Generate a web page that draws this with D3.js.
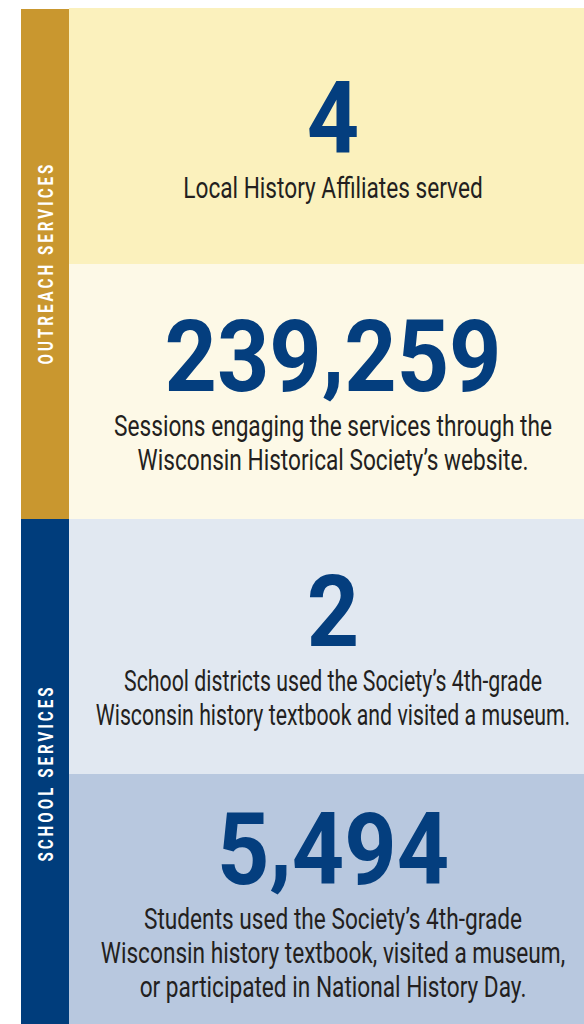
<!DOCTYPE html>
<html>
<head>
<meta charset="utf-8">
<script src="https://cdn.jsdelivr.net/npm/d3@7"></script>
<style>
  html, body { margin: 0; padding: 0; background: #fff; }
  svg { display: block; }
</style>
</head>
<body>
<svg id="chart"></svg>
<script>
'use strict';

// data
var sections = ["OUTREACH SERVICES", "SCHOOL SERVICES"];
var panelSection = [0, 0, 1, 1];
var values = [4, 239259, 2, 5494];
var captions = [
    ["Local History Affiliates served"],
    ["Sessions engaging the services through the",
     "Wisconsin Historical Society\u2019s website."],
    ["School districts used the Society\u2019s 4th-grade",
     "Wisconsin history textbook and visited a museum."],
    ["Students used the Society\u2019s 4th-grade",
     "Wisconsin history textbook, visited a museum,",
     "or participated in National History Day."]
];

var width = 584,
    height = 1024,
    bandX = 21,
    bandW = 48,
    panelX = bandX + bandW,
    centerX = 333;

var panelColors = ["#fbf1bd", "#fdf9e7", "#e1e8f1", "#b8c8df"],
    sectionColors = ["#c9972f", "#003d7c"],
    numberColor = "#043e7e",
    textColor = "#231f20",
    panelTracking = [1, 1, 0.94, 1];

var fmt = d3.format(",");

var svg = d3.select("#chart")
    .attr("width", width)
    .attr("height", height);

var y = d3.scaleBand()
    .domain(d3.range(values.length))
    .range([9, 1029]);

// panels
svg.selectAll("rect.panel")
    .data(values)
    .enter().append("rect")
    .attr("class", "panel")
    .attr("x", panelX)
    .attr("y", function (d, i) { return i === 0 ? y(i) - 1 : y(i); })
    .attr("width", width - panelX)
    .attr("height", function (d, i) { return i === 0 ? y.bandwidth() + 1 : y.bandwidth(); })
    .attr("fill", function (d, i) { return panelColors[i]; });

// section bands
function sectionExtent(s) {
    var idx = d3.range(values.length).filter(function (i) { return panelSection[i] === s; });
    return [y(d3.min(idx)), y(d3.max(idx)) + y.bandwidth()];
}

svg.selectAll("rect.section")
    .data(sections)
    .enter().append("rect")
    .attr("class", "section")
    .attr("x", bandX)
    .attr("y", function (d, i) { return sectionExtent(i)[0]; })
    .attr("width", bandW)
    .attr("height", function (d, i) { var e = sectionExtent(i); return e[1] - e[0]; })
    .attr("fill", function (d, i) { return sectionColors[i]; });

var labels = svg.selectAll("text.section-label")
    .data(sections)
    .enter().append("text")
    .attr("class", "section-label")
    .attr("text-anchor", "middle")
    .style("font-family", "Roboto, 'Noto Sans', sans-serif")
    .style("font-weight", 700)
    .style("font-size", "21px")
    .style("letter-spacing", "4.2px")
    .attr("fill", "#fff")
    .text(function (d) { return d; });

// condense the label so OUTREACH SERVICES spans ~203px
var labelFactor = 203 / labels.nodes()[0].getComputedTextLength();
labels.attr("transform", function (d, i) {
    var e = sectionExtent(i);
    return "translate(" + (bandX + 32) + "," + ((e[0] + e[1]) / 2 - 1) + ") rotate(-90) scale(" + labelFactor + ",1)";
});

// stat blocks
var numberCap = 71,
    captionGap = 45,
    lineH = 34,
    blockMid = 130.5,
    commaLift = 7;

var blocks = svg.selectAll("g.block")
    .data(values)
    .enter().append("g")
    .attr("class", "block");

var numbers = blocks.append("text")
    .attr("text-anchor", "middle")
    .style("font-family", "Roboto, 'Noto Sans', sans-serif")
    .style("font-weight", 700)
    .style("font-size", "100px")
    .attr("fill", numberColor);

// split digits and commas so the comma sits a little higher, as in the print face
numbers.selectAll("tspan")
    .data(function (d) { return fmt(d).split(/(,)/).filter(function (s) { return s.length; }); })
    .enter().append("tspan")
    .attr("dy", function (s, j) {
        if (s === ",") return -commaLift;
        return j > 0 ? commaLift : null;
    })
    .text(function (s) { return s; });

var numFactor = 337 / numbers.nodes()[1].getComputedTextLength();

function blockTop(i) {
    var h = numberCap + captionGap + (captions[i].length - 1) * lineH;
    return y(i) + blockMid - h / 2;
}

numbers.attr("transform", function (d, i) {
    return "translate(" + centerX + "," + (blockTop(i) + numberCap) + ") scale(" + numFactor + ",1)";
});

var lines = blocks.selectAll("text.caption")
    .data(function (d, i) {
        return captions[i].map(function (t, j) { return {text: t, panel: i, line: j}; });
    })
    .enter().append("text")
    .attr("class", "caption")
    .attr("text-anchor", "middle")
    .style("font-family", "Roboto, 'Noto Sans', sans-serif")
    .style("font-weight", 400)
    .style("font-size", "29px")
    .attr("fill", textColor)
    .text(function (d) { return d.text; });

// reference line: "Sessions engaging ..." is ~438px wide
var capFactor = 438 / lines.filter(function (d) { return d.panel === 1 && d.line === 0; }).node().getComputedTextLength();

lines.attr("transform", function (d) {
    var base = blockTop(d.panel) + numberCap + captionGap + d.line * lineH;
    return "translate(" + centerX + "," + base + ") scale(" + (capFactor * panelTracking[d.panel]) + ",1)";
});
</script>
</body>
</html>
